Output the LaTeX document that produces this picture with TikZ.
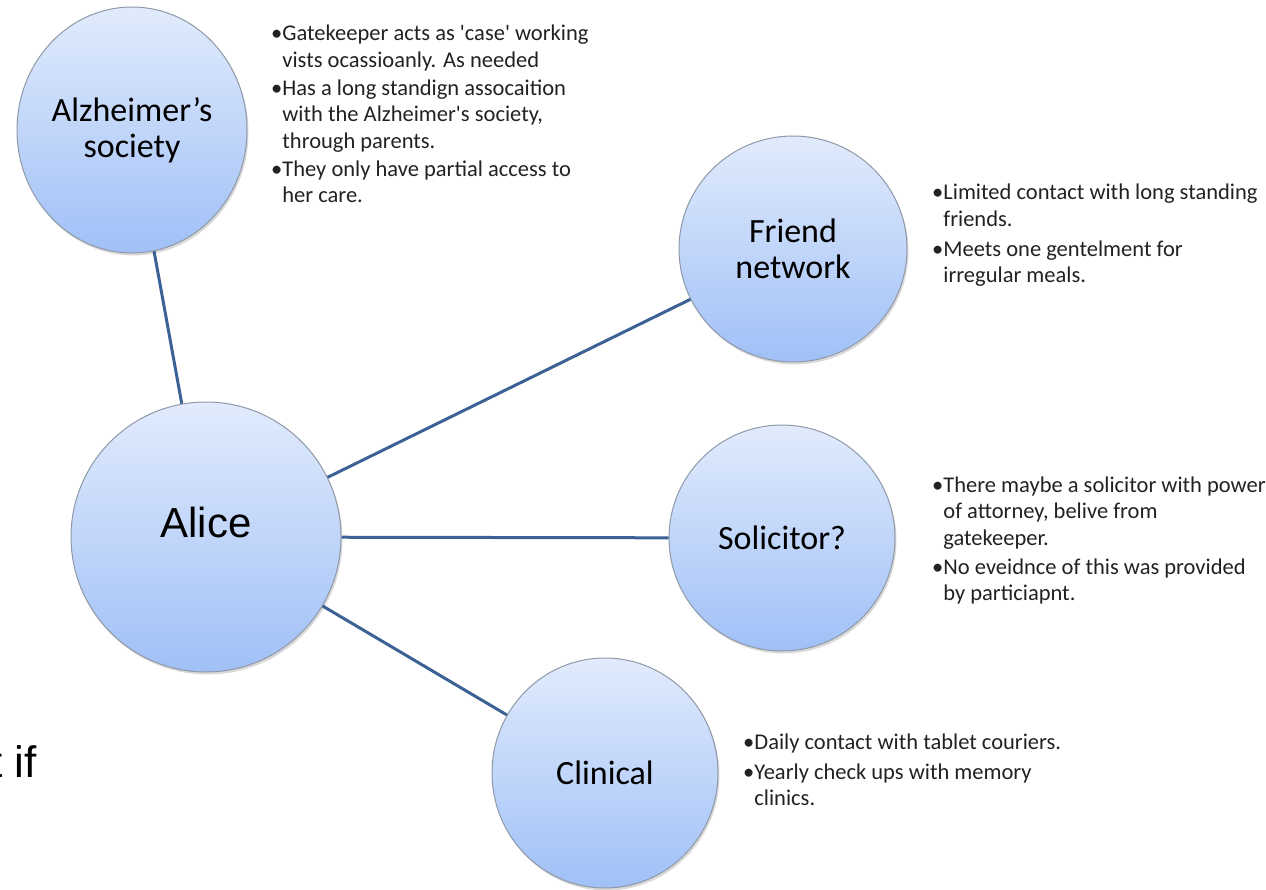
\documentclass[tikz,border=0pt]{standalone}
\usepackage{fontspec}
\setmainfont{Carlito}
\newfontfamily\alicefont{Liberation Sans}
\newfontfamily\notefont{Carlito}[Ligatures=TeXOff]
\usepackage{tikz}
\usetikzlibrary{shapes.geometric,shadows}

\definecolor{bubbleTop}{HTML}{E1EBFC}
\definecolor{bubbleBot}{HTML}{A0C0F7}
\definecolor{bubbleEdge}{HTML}{8F99A8}
\definecolor{linkBlue}{HTML}{3C6295}
\definecolor{noteGrey}{HTML}{222222}

\newcommand{\ind}{\hphantom{•}}
\newcommand{\notelines}[1]{\begin{tabular}[t]{@{}l@{}}#1\end{tabular}}

\begin{document}
\begin{tikzpicture}[x=1pt, y=-1pt,
    bubble/.style={ellipse, draw=bubbleEdge, line width=1pt, top color=bubbleTop, bottom color=bubbleBot,
        inner sep=0pt, align=center, font=\fontsize{34}{36}\selectfont,
        drop shadow={shadow xshift=1.5pt, shadow yshift=-2.5pt, opacity=0.25, fill=black!60}},
    note/.style={anchor=base west, inner sep=0pt, text=noteGrey,
        font=\notefont\fontsize{22.5}{26.5}\selectfont},
    link/.style={draw=linkBlue, line width=3pt}]
    \useasboundingbox (0,0) rectangle (1266,890);

    % centre
    \node (alice) [bubble, minimum width=270pt, minimum height=270pt, font=\alicefont\fontsize{42}{48}\selectfont]
        at (206,537) {\raisebox{15pt}[\height][\depth]{Alice}};

    % satellites
    \node (alz) [bubble, minimum width=230pt, minimum height=246pt] at (132,130) {Alzheimer’s\\society};
    \node (friend) [bubble, minimum width=228pt, minimum height=226pt] at (793,249) {Friend\\network};
    \node (solicitor) [bubble, minimum width=226pt, minimum height=226pt] at (782,538) {Solicitor?};
    \node (clinical) [bubble, minimum width=226pt, minimum height=230pt] at (605,773) {Clinical};

    % links
    \draw[link] (alz) -- (alice);
    \draw[link] (alice) -- (friend);
    \draw[link] (alice) -- (solicitor);
    \draw[link] (alice) -- (clinical);

    % notes
    \node (alzNote) [note] at (271,41) {\notelines{•Gatekeeper acts as 'case' working\\
        \ind vists ocassioanly. As needed\\[1.5pt]
        •Has a long standign assocaition\\
        \ind with the Alzheimer's society,\\
        \ind through parents.\\[1.5pt]
        •They only have partial access to\\
        \ind her care.}};
    \node (friendNote) [note] at (932,200) {\notelines{•Limited contact with long standing\\
        \ind friends.\\[3.5pt]
        •Meets one gentelment for\\
        \ind irregular meals.}};
    \node (solicitorNote) [note] at (932,492) {\notelines{•There maybe a solicitor with power\\
        \ind of attorney, belive from\\
        \ind gatekeeper.\\[2.5pt]
        •No eveidnce of this was provided\\
        \ind by particiapnt.}};
    \node (clinicalNote) [note] at (743,749) {\notelines{•Daily contact with tablet couriers.\\[3.5pt]
        •Yearly check ups with memory\\
        \ind clinics.}};

    % left-over text at the edge
    \node (stray) [anchor=base west, inner sep=0pt, font=\alicefont\fontsize{44}{48}\selectfont] at (-10,777) {t if};
\end{tikzpicture}
\end{document}
